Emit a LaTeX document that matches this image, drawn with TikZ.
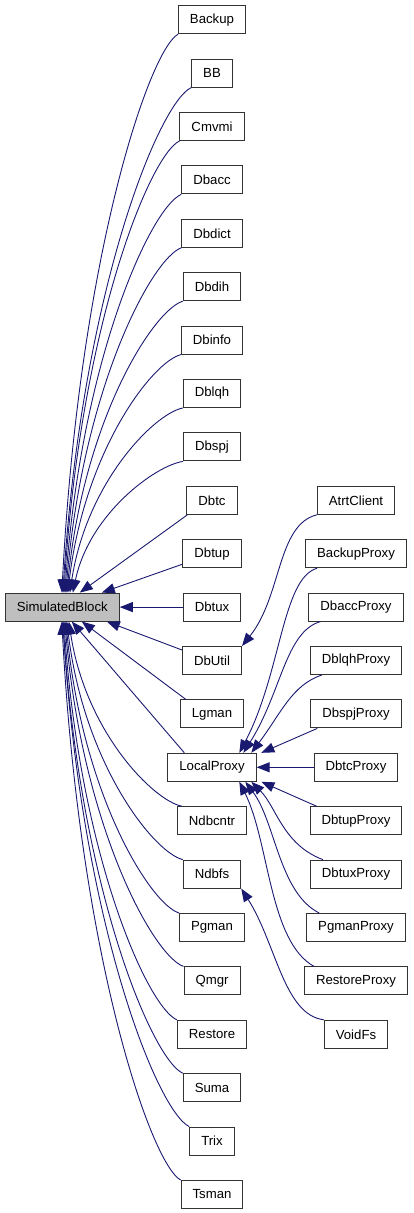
\documentclass[tikz,border=0pt]{standalone}
\usepackage{fontspec}
\setmainfont{Liberation Sans}
\usetikzlibrary{arrows.meta,calc}
\definecolor{edgeblue}{RGB}{25,25,112}
\definecolor{sbgray}{RGB}{191,191,191}
\tikzset{
  box/.style={draw=black!80, line width=1pt, fill=white, minimum height=28pt,
    inner xsep=11.5pt, inner ysep=0pt, font=\fontsize{13.2}{15}\selectfont},
  edge/.style={draw=edgeblue, line width=0.9pt, -{Triangle[length=13pt,width=10pt]}},
}
% upper child -> SimulatedBlock top
\newcommand\tosbup[3]{\draw[edge] let \p1=($(#1.south west)+(#3,0)$), \p2=($(sb.north west)+(#2,0)$) in
  (\p1) .. controls ({\x1-0.25*(\x1-\x2)},{\y1+0.03*(\y2-\y1)}) and ({\x2+0.15*(\x1-\x2)},{\y1+0.4*(\y2-\y1)}) .. (\p2);}
% lower child -> SimulatedBlock bottom
\newcommand\tosbdown[3]{\draw[edge] let \p1=($(#1.north west)+(#3,0)$), \p2=($(sb.south west)+(#2,0)$) in
  (\p1) .. controls ({\x1-0.25*(\x1-\x2)},{\y1+0.03*(\y2-\y1)}) and ({\x2+0.15*(\x1-\x2)},{\y1+0.4*(\y2-\y1)}) .. (\p2);}
\begin{document}
\begin{tikzpicture}[x=1pt,y=-1pt]
\useasboundingbox (0,0) rectangle (413,1213);
% base
\node[box, fill=sbgray] (sb) at (62.3,607.1) {SimulatedBlock};
% middle column
\node[box] (backup)     at (212,19.7)   {Backup};
\node[box] (bb)         at (212,73.1)   {BB};
\node[box] (cmvmi)      at (212,126.5)  {Cmvmi};
\node[box] (dbacc)      at (212,179.9)  {Dbacc};
\node[box] (dbdict)     at (212,233.3)  {Dbdict};
\node[box] (dbdih)      at (212,286.7)  {Dbdih};
\node[box] (dbinfo)     at (212,340.1)  {Dbinfo};
\node[box] (dblqh)      at (212,393.5)  {Dblqh};
\node[box] (dbspj)      at (212,446.9)  {Dbspj};
\node[box] (dbtc)       at (212,500.3)  {Dbtc};
\node[box] (dbtup)      at (212,553.7)  {Dbtup};
\node[box] (dbtux)      at (212,607.1)  {Dbtux};
\node[box] (dbutil)     at (212,660.5)  {DbUtil};
\node[box] (lgman)      at (212,713.9)  {Lgman};
\node[box] (localproxy) at (212,767.3)  {LocalProxy};
\node[box] (ndbcntr)    at (212,820.7)  {Ndbcntr};
\node[box] (ndbfs)      at (212,874.1)  {Ndbfs};
\node[box] (pgman)      at (212,927.5)  {Pgman};
\node[box] (qmgr)       at (212,980.9)  {Qmgr};
\node[box] (restore)    at (212,1034.3) {Restore};
\node[box] (suma)       at (212,1087.7) {Suma};
\node[box] (trix)       at (212,1141.1) {Trix};
\node[box] (tsman)      at (212,1194.5) {Tsman};
% right column
\node[box] (atrt)     at (356,500.3)  {AtrtClient};
\node[box] (backupp)  at (356,553.7)  {BackupProxy};
\node[box] (dbaccp)   at (356,607.1)  {DbaccProxy};
\node[box] (dblqhp)   at (356,660.5)  {DblqhProxy};
\node[box] (dbspjp)   at (356,713.9)  {DbspjProxy};
\node[box] (dbtcp)    at (356,767.3)  {DbtcProxy};
\node[box] (dbtupp)   at (356,820.7)  {DbtupProxy};
\node[box] (dbtuxp)   at (356,874.1)  {DbtuxProxy};
\node[box] (pgmanp)   at (356,927.5)  {PgmanProxy};
\node[box] (restorep) at (356,980.9)  {RestoreProxy};
\node[box] (voidfs)   at (356,1034.3) {VoidFs};
% edges to SimulatedBlock
\tosbup{backup}{57}{0}
\tosbup{bb}{58}{0}
\tosbup{cmvmi}{59}{0}
\tosbup{dbacc}{60}{0}
\tosbup{dbdict}{61}{0}
\tosbup{dbdih}{62}{0}
\tosbup{dbinfo}{63}{0}
\tosbup{dblqh}{65}{0}
\tosbup{dbspj}{68}{0}
\draw[edge] ($(dbtc.south west)+(1,0)$) -- ($(sb.north west)+(75,0)$);
\draw[edge] ($(dbtup.south west)+(0,-4)$) -- ($(sb.north west)+(97,0)$);
\draw[edge] (dbtux.west) -- (sb.east);
\draw[edge] ($(dbutil.north west)+(0,4)$) -- ($(sb.south west)+(102,0)$);
\draw[edge] ($(lgman.north west)+(6,0)$) -- ($(sb.south west)+(77,0)$);
\draw[edge] ($(localproxy.north west)+(17,0)$) -- ($(sb.south west)+(67,0)$);
\tosbdown{ndbcntr}{64}{5}
\tosbdown{ndbfs}{62}{0}
\tosbdown{pgman}{61}{0}
\tosbdown{qmgr}{60}{0}
\tosbdown{restore}{59}{0}
\tosbdown{suma}{58}{0}
\tosbdown{trix}{58}{0}
\tosbdown{tsman}{57}{0}
% AtrtClient -> DbUtil
\draw[edge] (atrt.south west) .. controls +(-40,10) and +(40,-50) .. (dbutil.north east);
% proxies -> LocalProxy
\draw[edge] ($(backupp.south west)+(12,0)$) .. controls +(-35,10) and +(42,-80) .. ($(localproxy.north west)+(72,0)$);
\draw[edge] ($(dbaccp.south west)+(12,0)$) .. controls +(-35,10) and +(38,-60) .. ($(localproxy.north west)+(76,0)$);
\draw[edge] ($(dblqhp.south west)+(12,0)$) .. controls +(-30,10) and +(30,-40) .. ($(localproxy.north west)+(84,0)$);
\draw[edge] ($(dbspjp.south west)+(7,0)$) -- ($(localproxy.north west)+(94,0)$);
\draw[edge] (dbtcp.west) -- (localproxy.east);
\draw[edge] ($(dbtupp.north west)+(7,0)$) -- ($(localproxy.south west)+(94,0)$);
\draw[edge] ($(dbtuxp.north west)+(13,0)$) .. controls +(-40,-15) and +(25,25) .. ($(localproxy.south west)+(84,0)$);
\draw[edge] ($(pgmanp.north west)+(13,0)$) .. controls +(-40,-20) and +(30,40) .. ($(localproxy.south west)+(78,0)$);
\draw[edge] ($(restorep.north west)+(10,0)$) .. controls +(-45,-25) and +(30,60) .. ($(localproxy.south west)+(72,0)$);
% VoidFs -> Ndbfs
\draw[edge] (voidfs.north west) .. controls +(-40,-5) and +(35,55) .. (ndbfs.south east);
\end{tikzpicture}
\end{document}
